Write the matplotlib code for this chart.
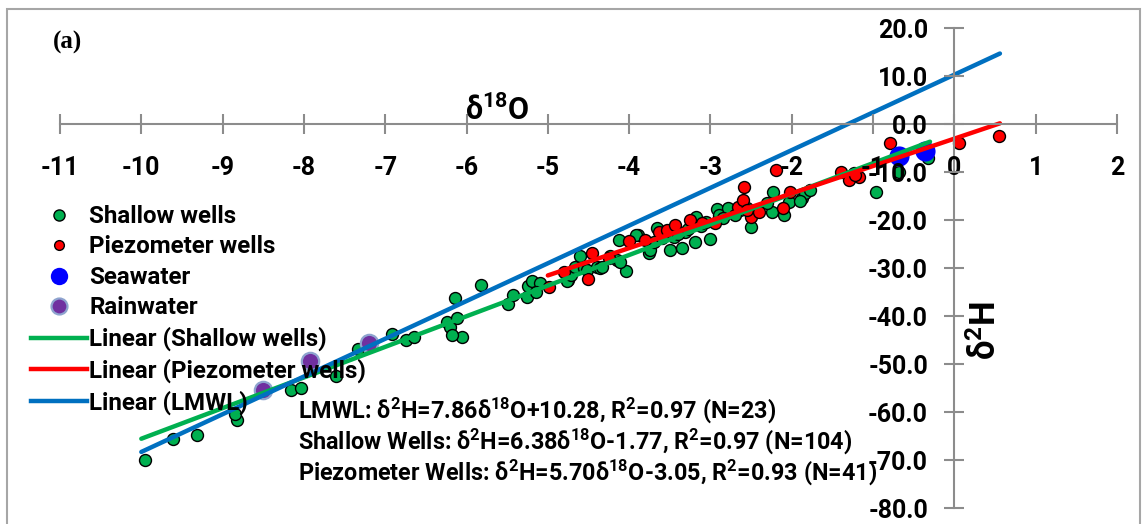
import matplotlib
matplotlib.use("Agg")
import matplotlib.pyplot as plt
from matplotlib.lines import Line2D
from matplotlib.patches import Rectangle
import numpy as np

FONT = 'Roboto'
plt.rcParams['font.family'] = [FONT, 'Noto Sans', 'DejaVu Sans']
plt.rcParams['font.weight'] = 'bold'
plt.rcParams['mathtext.fontset'] = 'custom'
plt.rcParams['mathtext.rm'] = FONT + ':bold'
plt.rcParams['mathtext.bf'] = FONT + ':bold'
plt.rcParams['mathtext.it'] = FONT + ':bold'

# ---- isotope data (delta 18O, delta 2H; permil) ----
shallow_d18o = [-9.96, -9.61, -9.32, -8.82, -8.85, -8.16, -8.04, -7.61, -7.34, -6.92, -6.74, -6.65,
                -6.24, -6.20, -6.12, -6.06, -6.18, -6.14, -5.82, -5.49, -5.43, -5.26, -5.24, -5.19,
                -5.10, -5.14, -4.75, -4.77, -4.71, -4.67, -4.60, -4.56, -4.52, -4.40, -4.36, -4.34,
                -4.23, -4.15, -4.04, -4.12, -4.11, -3.89,
                -3.91, -3.76, -3.74, -3.66, -3.50, -3.35, -3.31, -3.19, -3.18, -3.00, -2.92, -2.90,
                -2.78, -2.64, -2.50, -2.23, -2.24, -2.31, -2.09, -2.04, -1.88, -1.84, -1.77, -1.90,
                -3.70, -3.60, -3.45, -3.40, -3.28, -3.12, -3.05, -2.85, -2.70, -2.55,
                -1.24, -0.96, -0.68, -0.32]
shallow_d2h = [-70.1, -65.6, -64.8, -61.7, -60.5, -55.4, -54.9, -52.6, -46.9, -43.8, -44.9, -44.3,
               -41.2, -42.2, -40.5, -44.3, -43.9, -36.3, -33.6, -37.4, -35.6, -36.0, -33.75, -32.8,
               -33.2, -34.9, -32.5, -32.8, -31.5, -29.7, -27.5, -30.1, -30.4, -29.7, -29.9, -29.7,
               -27.5, -28.3, -30.6, -24.2, -28.7, -23.1,
               -23.1, -26.9, -26.25, -21.7, -26.25, -25.9, -22.4, -24.5, -19.4, -24.0, -17.8, -18.9,
               -17.6, -17.9, -21.5, -14.1, -18.3, -16.5, -19.0, -16.2, -15.5, -14.4, -13.75, -16.0,
               -24.6, -23.8, -23.5, -22.9, -21.9, -21.3, -20.5, -19.6, -18.9, -17.4,
               -10.3, -14.1, -10.1, -7.1]

piezo_d18o = [-4.98, -4.51, -4.46, -4.80, -4.25,
              -4.00, -3.80, -3.63, -3.54, -3.44, -3.25, -3.11, -2.94, -2.66, -2.60, -2.59,
              -2.50, -2.55, -2.40, -2.11, -2.02, -2.19,
              -1.40, -1.29, -1.17, -1.22, -0.79, 0.06, 0.55]
piezo_d2h = [-33.9, -32.2, -26.9, -30.9, -28.0,
             -24.3, -24.2, -22.4, -22.1, -21.0, -20.0, -20.7, -20.7, -17.2, -15.8, -13.2,
             -19.3, -18.0, -18.3, -17.6, -14.1, -9.6,
             -9.9, -11.7, -11.0, -10.6, -4.0, -4.0, -2.5]

sea_d18o = [-0.68, -0.36]
sea_d2h = [-6.7, -5.6]

rain_d18o = [-8.50, -7.92, -7.20]
rain_d2h = [-55.4, -49.3, -45.7]

# regression lines: slope, intercept, x-range
lmwl = (7.86, 10.28, (-10.0, 0.56))
shallow_fit = (6.38, -1.77, (-10.0, -0.30))
piezo_fit = (5.70, -3.05, (-5.0, 0.56))

x_ticks = list(range(-11, 3))
y_ticks = list(range(-80, 21, 10))

W, H = 1143, 524
fig = plt.figure(figsize=(W / 100, H / 100), dpi=100)
ax = fig.add_axes([60 / W, 1 - 508 / H, (1117 - 60) / W, (508 - 28) / H])
ax.set_xlim(-11, 2)
ax.set_ylim(-80, 20)
ax.patch.set_alpha(0)

green, red, blue_pt, purple = '#00B050', '#FF0000', '#0000FF', '#7030A0'

ax.plot(shallow_d18o, shallow_d2h, 'o', ms=8.6, mfc=green, mec='black', mew=1.0, zorder=1.2)
ax.plot(piezo_d18o, piezo_d2h, 'o', ms=8.6, mfc=red, mec='black', mew=1.0, zorder=1.3)
ax.plot(sea_d18o, sea_d2h, 'o', ms=14.5, mfc=blue_pt, mec=blue_pt, mew=0, zorder=1.4)
ax.plot(rain_d18o, rain_d2h, 'o', ms=12.5, mfc=purple, mec='#8EA4CF', mew=1.6, zorder=1.5)

for (m, b, (x0, x1)), col in [(shallow_fit, green), (piezo_fit, red), (lmwl, '#0070C0')]:
    xs = np.array([x0, x1])
    ax.plot(xs, m * xs + b, color=col, lw=3.2, solid_capstyle='round', zorder=2)

# axes crossing at the origin
for s in ['top', 'right']:
    ax.spines[s].set_visible(False)
ax.spines['left'].set_position(('data', 0))
ax.spines['bottom'].set_position(('data', 0))
for s in ['left', 'bottom']:
    ax.spines[s].set_color('#8C8C8C')
    ax.spines[s].set_linewidth(1.5)
ax.set_axisbelow(False)

ax.set_xticks(x_ticks)
ax.set_xticklabels([str(v) for v in x_ticks])
ax.set_yticks(y_ticks)
ax.set_yticklabels([f'{v:.1f}' for v in y_ticks])
ax.tick_params(axis='both', direction='inout', length=14, width=1.5, color='#8C8C8C',
               labelsize=18)
ax.tick_params(axis='x', pad=16)
ax.tick_params(axis='y', pad=12)
for lab in ax.get_xticklabels() + ax.get_yticklabels():
    lab.set_fontweight('bold')

def px(x, y):
    return x / W, 1 - y / H

fig.text(*px(497, 110), r'δ$^{\mathbf{18}}$O', fontsize=22, fontweight='bold',
         ha='center', va='center')
fig.text(*px(986, 330), r'δ$^{\mathbf{2}}$H', fontsize=25, fontweight='bold',
         ha='center', va='center', rotation=90)
fig.text(*px(68, 42), '(a)', fontsize=18, fontweight='bold', family='Liberation Serif',
         ha='center', va='center')

eqs = [r'LMWL: δ$^{\mathbf{2}}$H=7.86δ$^{\mathbf{18}}$O+10.28, R$^{\mathbf{2}}$=0.97 (N=23)',
       r'Shallow Wells: δ$^{\mathbf{2}}$H=6.38δ$^{\mathbf{18}}$O-1.77, R$^{\mathbf{2}}$=0.97 (N=104)',
       r'Piezometer Wells: δ$^{\mathbf{2}}$H=5.70δ$^{\mathbf{18}}$O-3.05, R$^{\mathbf{2}}$=0.93 (N=41)']
for i, t in enumerate(eqs):
    fig.text(*px(298, 410 + 31 * i), t, fontsize=16.8, fontweight='bold', ha='left', va='center')

handles = [
    Line2D([], [], ls='none', marker='o', ms=8, mfc=green, mec='black', mew=1.0),
    Line2D([], [], ls='none', marker='o', ms=7, mfc=red, mec='black', mew=1.0),
    Line2D([], [], ls='none', marker='o', ms=12.5, mfc=blue_pt, mec=blue_pt, mew=0),
    Line2D([], [], ls='none', marker='o', ms=11.5, mfc=purple, mec='#8EA4CF', mew=1.6),
    Line2D([], [], color=green, lw=3.2),
    Line2D([], [], color=red, lw=3.2),
    Line2D([], [], color='#0070C0', lw=3.2),
]
labels = ['Shallow wells', 'Piezometer wells', 'Seawater', 'Rainwater',
          'Linear (Shallow wells)', 'Linear (Piezometer wells)', 'Linear (LMWL)']
leg = fig.legend(handles, labels, loc='upper left', bbox_to_anchor=px(31, 205),
                 frameon=False, fontsize=17.4, handlelength=2.3, handletextpad=0.12,
                 labelspacing=0.31, borderpad=0, borderaxespad=0)
for t in leg.get_texts():
    t.set_fontweight('bold')

fig.patches.append(Rectangle((7 / W, -0.02), (1140 - 7) / W, 1 - 9 / H + 0.02,
                             transform=fig.transFigure, fill=False, ec='#A6A6A6', lw=1.5))

fig.savefig('out.png', dpi=100)
